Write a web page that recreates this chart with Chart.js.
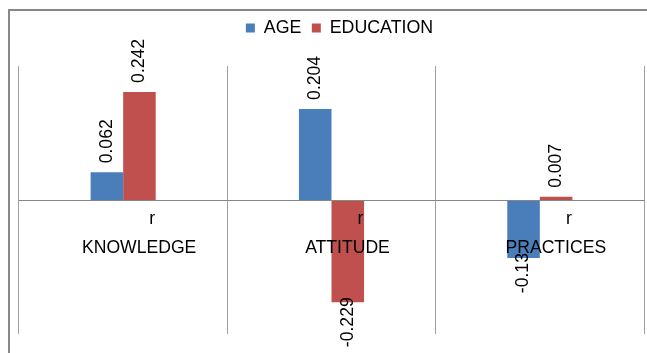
<!DOCTYPE html>
<html>
<head>
<meta charset="utf-8">
<script src="https://cdn.jsdelivr.net/npm/chart.js@4/dist/chart.umd.min.js"></script>
<style>
  html, body { margin: 0; padding: 0; background: #fff; }
  #wrap { position: relative; width: 647px; height: 353px; overflow: hidden; }
  #frame { position: absolute; left: 8px; top: 9px; width: 700px; height: 400px;
           border-left: 2px solid #888; border-top: 2px solid #888; }
  #c { position: absolute; left: 0; top: 0; }
</style>
</head>
<body>
<div id="wrap">
  <div id="frame"></div>
  <canvas id="c" width="647" height="353"></canvas>
</div>
<script>
const categories = ['KNOWLEDGE', 'ATTITUDE', 'PRACTICES'];
const subLabels = ['r', 'r', 'r'];
const seriesNames = ['AGE', 'EDUCATION'];
const ageValues = [0.062, 0.204, -0.13];
const educationValues = [0.242, -0.229, 0.007];
const seriesColors = ['#4A7EBB', '#C0504D'];

const FONT = '"Liberation Sans", Arial, sans-serif';
Chart.defaults.font.family = FONT;
Chart.defaults.color = '#000';

const valueLabels = {
  id: 'valueLabels',
  afterDatasetsDraw(chart) {
    const ctx = chart.ctx;
    ctx.save();
    ctx.font = '17.6px ' + FONT;
    ctx.fillStyle = '#000';
    ctx.textBaseline = 'middle';
    chart.data.datasets.forEach((ds, di) => {
      const meta = chart.getDatasetMeta(di);
      meta.data.forEach((bar, i) => {
        const v = ds.data[i];
        ctx.save();
        ctx.translate(bar.x, v >= 0 ? bar.y - 9 : bar.y - 5);
        ctx.rotate(-Math.PI / 2);
        ctx.textAlign = v >= 0 ? 'left' : 'right';
        ctx.fillText(String(v), 0, 0);
        ctx.restore();
      });
    });
    ctx.restore();
  }
};

// nudge the centred legend a little to the right, as in the original
const legendShift = {
  id: 'legendShift',
  afterLayout(chart) {
    if (chart.legend) { chart.legend.left += 8; chart.legend.right += 8; }
  }
};

new Chart(document.getElementById('c'), {
  type: 'bar',
  data: {
    labels: categories,
    datasets: [
      { label: seriesNames[0], data: ageValues, backgroundColor: seriesColors[0],
        xAxisID: 'x', yAxisID: 'y', barPercentage: 1, categoryPercentage: 0.3125 },
      { label: seriesNames[1], data: educationValues, backgroundColor: seriesColors[1],
        xAxisID: 'x', yAxisID: 'y', barPercentage: 1, categoryPercentage: 0.3125 }
    ]
  },
  options: {
    responsive: false,
    animation: false,
    devicePixelRatio: 1,
    layout: { padding: { left: 19, right: 3, top: 8.6, bottom: 19 } },
    plugins: {
      legend: {
        position: 'top',
        labels: { boxWidth: 9, boxHeight: 9, padding: 10.5, color: '#000',
                  font: { size: 17.8, family: FONT } }
      },
      title: { display: true, text: '', weight: 500, padding: 0,
               font: { size: 19.1, lineHeight: 1 } },
      tooltip: { enabled: false }
    },
    scales: {
      x: {
        type: 'category',
        labels: subLabels,
        position: { y: 0 },
        offset: true,
        grid: { offset: true, color: '#a0a0a0', lineWidth: 1, drawTicks: false },
        border: { color: '#868686', width: 1, z: 1 },
        ticks: { font: { size: 17.6 }, color: '#000', padding: 9, labelOffset: 29,
                 maxRotation: 0, autoSkip: false, z: 1 }
      },
      x2: {
        type: 'category',
        labels: categories,
        position: { y: 0 },
        offset: true,
        grid: { display: false, drawTicks: false },
        border: { display: false },
        ticks: { font: { size: 17.6 }, color: '#000', padding: 38, labelOffset: 16,
                 maxRotation: 0, autoSkip: false, z: 1 }
      },
      y: { display: false, min: -0.3, max: 0.3 }
    }
  },
  plugins: [valueLabels, legendShift]
});
</script>
</body>
</html>
